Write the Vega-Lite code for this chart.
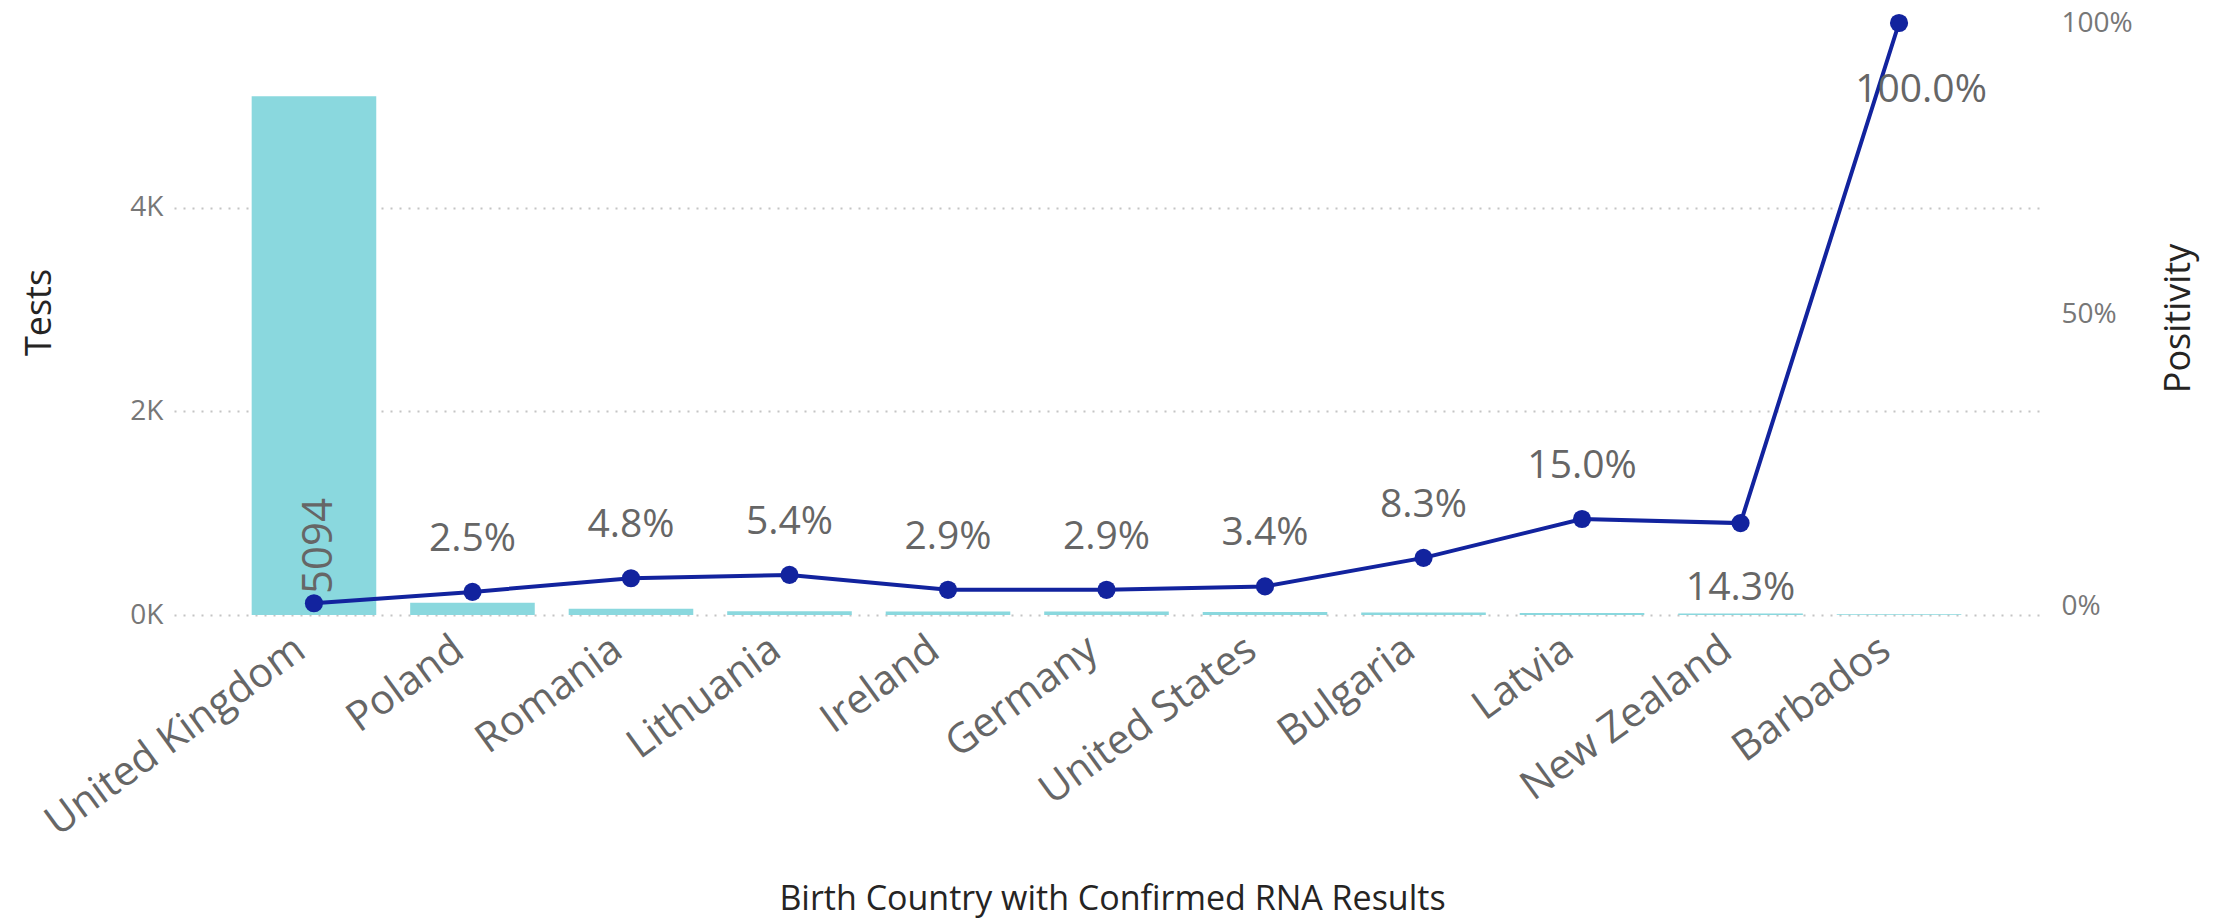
{
  "$schema": "https://vega.github.io/schema/vega-lite/v6.json",
  "width": 1865,
  "height": 592,
  "autosize": {"type": "none"},
  "padding": {"left": 174, "top": 23, "right": 176, "bottom": 306},
  "background": "white",
  "config": {"font": "Open Sans", "view": {"stroke": null}},
  "data": {
    "values": [
      {"Country": "United Kingdom", "Tests": 5094, "Positivity": 0.0055},
      {"Country": "Poland", "Tests": 120, "Positivity": 0.025},
      {"Country": "Romania", "Tests": 62, "Positivity": 0.0484},
      {"Country": "Lithuania", "Tests": 37, "Positivity": 0.0541},
      {"Country": "Ireland", "Tests": 35, "Positivity": 0.0286},
      {"Country": "Germany", "Tests": 35, "Positivity": 0.0286},
      {"Country": "United States", "Tests": 29, "Positivity": 0.0344},
      {"Country": "Bulgaria", "Tests": 24, "Positivity": 0.0833},
      {"Country": "Latvia", "Tests": 20, "Positivity": 0.15},
      {"Country": "New Zealand", "Tests": 14, "Positivity": 0.1429},
      {"Country": "Barbados", "Tests": 8, "Positivity": 1.0}
    ]
  },
  "encoding": {
    "x": {
      "field": "Country",
      "type": "nominal",
      "sort": ["United Kingdom", "Poland", "Romania", "Lithuania", "Ireland", "Germany", "United States", "Bulgaria", "Latvia", "New Zealand", "Barbados"],
      "scale": {"paddingInner": 0.214, "paddingOuter": 0.49},
      "axis": {
        "title": "Birth Country with Confirmed RNA Results",
        "titleFontSize": 34,
        "titleColor": "#252423",
        "titleFontWeight": "normal",
        "titleX": 938,
        "titleY": 294,
        "titleAlign": "center",
        "titleBaseline": "alphabetic",
        "labelAngle": -36,
        "labelFontSize": 41,
        "labelColor": "#666666",
        "labelBaseline": "middle",
        "labelAlign": "right",
        "labelPadding": 30,
        "labelOffset": -13,
        "labelLimit": 600,
        "domain": false,
        "ticks": false,
        "grid": false
      }
    }
  },
  "layer": [
    {
      "encoding": {
        "y": {
          "field": "Tests",
          "type": "quantitative",
          "scale": {"domain": [0, 5812], "nice": false, "zero": true},
          "axis": {
            "title": "Tests",
            "values": [0, 2000, 4000],
            "labelExpr": "datum.value / 1000 + 'K'",
            "grid": true,
            "gridDash": [2, 7],
            "gridColor": "#c4c4c4",
            "gridWidth": 2,
            "domain": false,
            "ticks": false,
            "labelFontSize": 28,
            "labelColor": "#777777",
            "labelPadding": 11,
            "titleFontSize": 36,
            "titleColor": "#252423",
            "titleFontWeight": "normal",
            "titleAngle": 270,
            "titleX": -124,
            "titleY": 289,
            "titleAlign": "center",
            "titleBaseline": "alphabetic"
          }
        }
      },
      "layer": [
        {
          "mark": {"type": "bar", "color": "#8ad8de"}
        },
        {
          "transform": [{"filter": "datum.Country === 'United Kingdom'"}],
          "mark": {"type": "text", "angle": 270, "align": "left", "baseline": "middle", "dx": 21, "dy": 5, "fontSize": 42, "color": "#666666"},
          "encoding": {
            "y": {
              "datum": 0,
              "type": "quantitative",
              "scale": {"domain": [0, 5812], "nice": false, "zero": true},
              "axis": {
                "title": "Tests",
                "values": [0, 2000, 4000],
                "labelExpr": "datum.value / 1000 + 'K'",
                "grid": true,
                "gridDash": [2, 7],
                "gridColor": "#c4c4c4",
                "gridWidth": 2,
                "domain": false,
                "ticks": false,
                "labelFontSize": 28,
                "labelColor": "#777777",
                "labelPadding": 11,
                "titleFontSize": 36,
                "titleColor": "#252423",
                "titleFontWeight": "normal",
                "titleAngle": 270,
                "titleX": -124,
                "titleY": 289,
                "titleAlign": "center",
                "titleBaseline": "alphabetic"
              }
            },
            "text": {"field": "Tests", "type": "quantitative", "format": "d"}
          }
        }
      ]
    },
    {
      "encoding": {
        "y": {
          "field": "Positivity",
          "type": "quantitative",
          "scale": {"domain": [-0.0146, 1], "nice": false, "zero": false},
          "axis": {
            "orient": "right",
            "title": "Positivity",
            "values": [0, 0.5, 1],
            "format": ".0%",
            "grid": false,
            "domain": false,
            "ticks": false,
            "labelFontSize": 28,
            "labelColor": "#777777",
            "labelPadding": 22,
            "titleFontSize": 36,
            "titleColor": "#252423",
            "titleFontWeight": "normal",
            "titleAngle": 270,
            "titleX": 150,
            "titleY": 295,
            "titleAlign": "center",
            "titleBaseline": "alphabetic"
          }
        }
      },
      "layer": [
        {
          "mark": {"type": "line", "color": "#12239e", "strokeWidth": 4}
        },
        {
          "mark": {"type": "circle", "color": "#12239e", "size": 330, "opacity": 1}
        },
        {
          "transform": [{"filter": "datum.Country !== 'United Kingdom' && datum.Country !== 'New Zealand' && datum.Country !== 'Barbados'"}],
          "mark": {"type": "text", "align": "center", "baseline": "alphabetic", "dy": -41, "fontSize": 39, "color": "#666666"},
          "encoding": {
            "text": {"field": "Positivity", "type": "quantitative", "format": ".1%"}
          }
        },
        {
          "transform": [{"filter": "datum.Country === 'New Zealand'"}],
          "mark": {"type": "text", "align": "center", "baseline": "alphabetic", "dy": 77, "fontSize": 39, "color": "#666666"},
          "encoding": {
            "text": {"field": "Positivity", "type": "quantitative", "format": ".1%"}
          }
        },
        {
          "transform": [{"filter": "datum.Country === 'Barbados'"}],
          "mark": {"type": "text", "align": "center", "baseline": "alphabetic", "dx": 22, "dy": 79, "fontSize": 39, "color": "#666666"},
          "encoding": {
            "text": {"field": "Positivity", "type": "quantitative", "format": ".1%"}
          }
        }
      ]
    }
  ],
  "resolve": {"scale": {"y": "independent"}, "axis": {"y": "independent"}}
}
